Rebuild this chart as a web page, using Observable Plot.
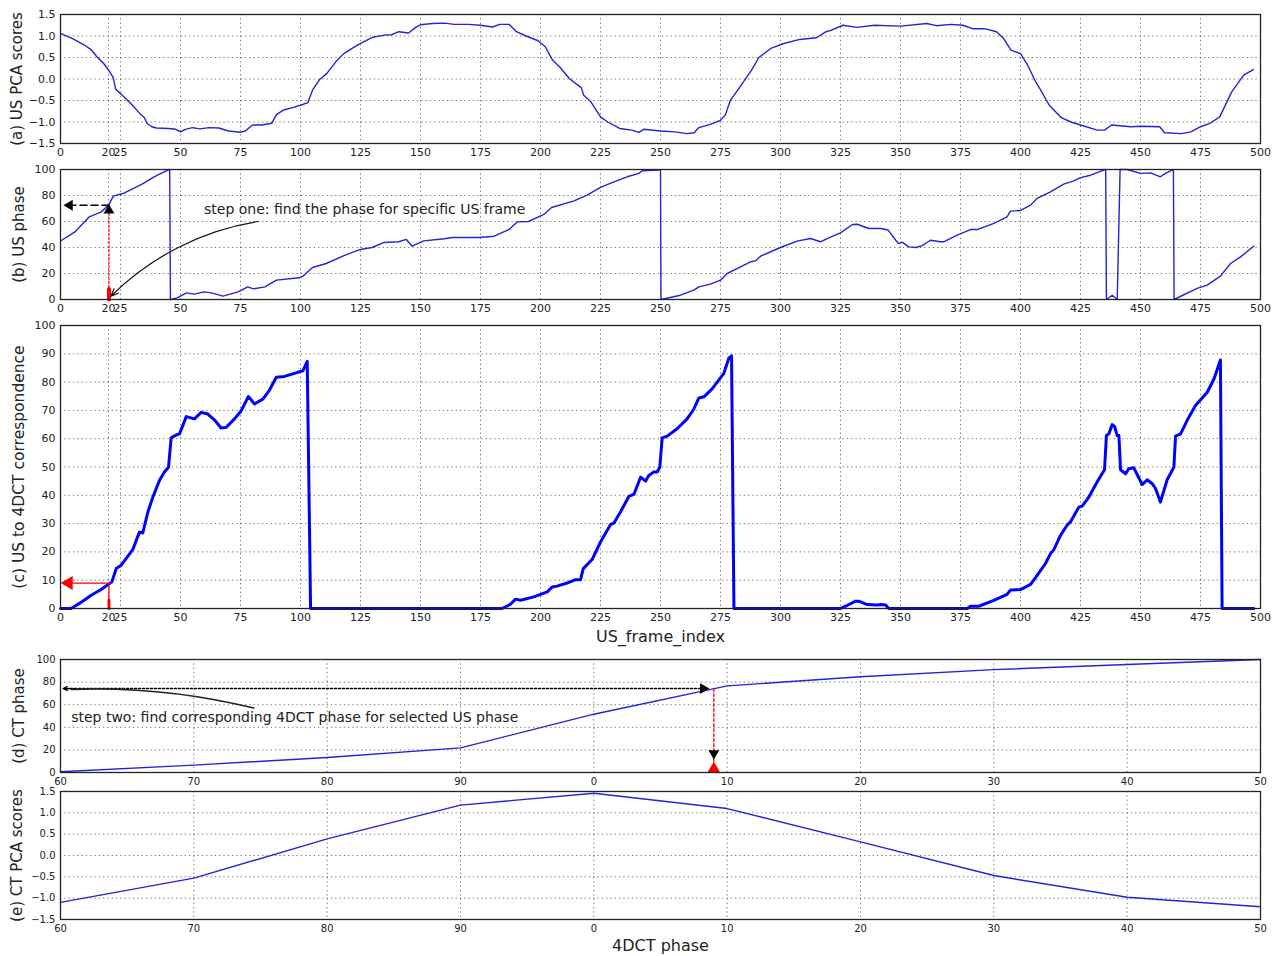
<!DOCTYPE html>
<html><head><meta charset="utf-8">
<script src="https://cdn.jsdelivr.net/npm/d3@7"></script>
<script src="https://cdn.jsdelivr.net/npm/@observablehq/plot@0.6"></script>
<style>
html,body{margin:0;padding:0;background:#fff;}
body{width:1276px;height:956px;overflow:hidden;font-family:"DejaVu Sans",sans-serif;}
#root{position:relative;width:1276px;height:956px;}
</style></head>
<body><div id="root"></div>
<script>
// ---------- data ----------
const usFrameTicks = [0,20,25,50,75,100,125,150,175,200,225,250,275,300,325,350,375,400,425,450,475,500];
const pcaTicks = [-1.5,-1,-0.5,0,0.5,1,1.5];
const phaseTicks = [0,20,40,60,80,100];
const corrTicks = [0,10,20,30,40,50,60,70,80,90,100];
const ctPhaseLabels = ["60","70","80","90","0","10","20","30","40","50"];

const usPcaFrames = [0,5,10,13,15,18,20,22,23,25,30,33,35,36,38,40,45,48,50,52,55,58,62,66,70,75,77,80,84,88,90,93,97,100,103,105,108,111,115,118,122,125,130,135,138,141,145,148,150,155,160,164,170,175,180,183,187,190,194,199,202,205,208,212,215,217,218,221,225,228,233,238,241,243,250,256,261,264,266,271,275,277,279,285,288,291,296,301,308,315,319,321,326,332,339,350,361,365,371,376,380,385,390,393,396,400,403,406,408,412,417,421,425,432,435,438,446,450,458,460,467,471,475,479,483,488,493,497];
const usPcaScores = [1.06,0.94,0.79,0.67,0.53,0.36,0.21,0.03,-0.24,-0.34,-0.61,-0.80,-0.90,-1.03,-1.11,-1.14,-1.15,-1.17,-1.23,-1.17,-1.13,-1.16,-1.13,-1.14,-1.21,-1.24,-1.21,-1.07,-1.07,-1.03,-0.83,-0.72,-0.66,-0.61,-0.55,-0.26,-0.01,0.13,0.42,0.59,0.73,0.83,0.97,1.02,1.03,1.10,1.07,1.20,1.26,1.29,1.30,1.27,1.27,1.25,1.21,1.27,1.27,1.10,1.00,0.89,0.75,0.44,0.28,0.01,-0.12,-0.20,-0.38,-0.53,-0.88,-1.00,-1.15,-1.19,-1.24,-1.17,-1.21,-1.23,-1.27,-1.25,-1.13,-1.05,-0.96,-0.84,-0.51,-0.03,0.21,0.50,0.71,0.82,0.92,0.96,1.10,1.13,1.25,1.20,1.25,1.23,1.29,1.24,1.27,1.25,1.17,1.17,1.10,0.94,0.67,0.59,0.32,-0.03,-0.22,-0.61,-0.90,-1.00,-1.07,-1.19,-1.19,-1.07,-1.11,-1.10,-1.11,-1.25,-1.27,-1.23,-1.11,-1.03,-0.88,-0.30,0.09,0.22];

const usPhaseFrames = [0,6,12,17,20,22,26,34,39,44,45.5,45.8,48.6,52.5,55.7,59.7,62.9,67.7,74,78,80.4,85.2,90,99.5,101,105,110.7,118.6,125,129.8,134.6,140.9,144.1,146.5,151.3,160,163.2,174.4,180.7,187,190.3,195,201.4,204.6,214,219.4,225,230.6,236.1,241,242.4,249.3,250,250.2,258.3,263.9,266,270.8,275,277.8,281.9,287.5,289.6,291.7,300,306.9,312.5,316.7,320.1,325,330,332,336.8,341.7,344.8,348,349.3,350.7,353.5,356.5,359,362.5,366.5,368,373.6,379.2,382,388.9,394.4,395.8,400,404.2,406.9,412.5,418,422.2,425,429.2,434.7,435.5,435.8,438.2,440.3,441.5,444.4,450,454.2,458.3,460.4,463.2,463.7,464,473.6,477.8,483.3,487.5,491.7,497.2];
const usPhaseValues = [45,52,63.6,67.4,72.6,79.5,81.5,88.7,94.4,99,100,0,1.3,5.1,4.1,5.9,5.1,2.6,5.9,9.7,8.2,9.7,14.9,16.7,17.9,24.6,27.7,34.1,38.5,40,43.8,44.4,46.2,41,45.1,46.7,47.7,47.7,48.7,54,59.7,60,65.4,70.8,75.9,80.3,86.2,90.5,94.4,97,99,99.5,99.8,0,3.3,7.2,9.7,11.8,14.9,20,23.8,29,29.7,33.3,40,44.9,46.9,44.4,47.4,51.3,57.7,57.9,54.6,54.6,53.5,45.6,43,44.1,40.5,40,41.5,45.6,44.4,44.4,49.5,53.8,53.8,58.5,63.6,68,68.5,72.6,77.7,82.8,88.7,91.3,93.8,95.6,99.5,100,0,3.3,0,100,100,97,97.4,94.4,97,99.5,100,0,8.5,11,18,27.7,32.8,41];

const corrFrames = [0,4.4,7.9,12.8,16.9,20.4,21.4,23.2,25.3,30.1,32.9,34.3,36.4,38.5,41.2,43.3,45,46.1,48.2,49.6,52.4,55.8,58.6,61.4,64.2,66.9,69,72.5,75.3,78.3,80.8,84.3,87.1,89.9,93.3,97.5,101,102.8,104.2,184,187.5,189.6,191.7,197.2,202.8,204.9,206.9,211.1,214.6,216.7,217.8,221.5,225,229.2,230.6,233.3,236.8,238.9,241.7,243.8,245.1,247.2,248.6,249.7,250.7,252.8,256.9,261.1,263.9,266,268.1,271.5,276.4,278.5,279.6,280.6,325,327.1,331.3,332.6,336.1,340.3,341.7,343.8,345.1,377.8,379.2,382.6,388.9,394.4,395.8,400,404.2,407,410.4,412.5,413.9,416.7,419.4,420.8,424.3,425.7,428.5,431.9,435,435.8,436.8,438.2,439.2,440.3,441,441.7,443.8,445.1,447.2,450.7,452.8,454.9,456.3,458.3,461.1,463.9,464.6,466.7,469.4,472.9,477.8,480.6,483.3,484,497.2];
const corrValues = [0,0,1.8,4.7,6.7,8.8,9.4,14.1,15.3,20.8,27,26.7,34.1,39.4,45.2,48.2,49.9,60.3,61.3,61.7,67.8,67,69.3,68.7,66.6,63.8,64,67,69.9,74.9,72.3,74,77.2,81.7,82,83.1,84,87.3,0,0,1.5,3.3,2.9,4.1,5.9,7.6,7.9,9,10.2,10.2,14.1,17.3,23.5,29.7,30.2,34.1,39.6,40.3,46.4,45,47,48.2,48.2,49.9,60.3,60.9,63.5,67,70.5,74.4,74.8,77.6,83.1,88.5,89.3,0,0,0.8,2.6,2.6,1.4,1.2,1.4,1.2,0,0,0.8,0.8,2.9,5,6.5,6.7,8.5,11.8,15.9,19.4,20.8,25.9,29.4,30.6,35.8,36.2,39.4,44.7,49,61.1,61.7,65,64.3,61.1,61.1,49,47.6,49.4,49.7,43.8,45.5,44.1,42.3,37.6,45.5,49.9,60.9,61.7,66.4,71.7,76.4,81.1,87.8,0,0];

const ctPhase = [0.6,6.5,13.3,21.8,51.6,76.7,84.7,91.0,95.6,100];
const ctPcaScores = [-1.10,-0.53,0.39,1.18,1.46,1.10,0.32,-0.47,-0.98,-1.20];

// selected example
const selFrame = 20.2, selUsPhase = 72.5, selCorr = 9, selCtIndex = 4.9, selCtPhase = 74.3;

// ---------- helpers ----------
const font = "DejaVu Sans, sans-serif";
const root = document.getElementById("root");
const pairs = (xs, ys) => xs.map((x, i) => ({x, y: ys[i]}));
const thin = "#2323d8";

function panel(cfg) {
  const fig = Plot.plot({
    width: 1276, height: cfg.height,
    marginLeft: 60, marginRight: 16, marginTop: cfg.mt, marginBottom: cfg.mb,
    x: {domain: cfg.xdom},
    y: {domain: cfg.ydom},
    style: {fontFamily: font, background: "transparent", color: "#222", overflow: "visible"},
    marks: [
      Plot.gridX(cfg.xticks, {stroke: "#000", strokeOpacity: 0.55, strokeDasharray: "1.3,3"}),
      Plot.gridY(cfg.yticks, {stroke: "#000", strokeOpacity: 0.55, strokeDasharray: "1.3,3"}),
      ...cfg.marks,
      Plot.frame({stroke: "#222", strokeWidth: 1.3}),
      Plot.axisX(cfg.xticks, {tickFormat: cfg.xfmt, tickSize: 0, tickPadding: 5, fontSize: cfg.tf, label: null}),
      Plot.axisY(cfg.yticks, {tickFormat: cfg.yfmt, tickSize: 0, tickPadding: 5, fontSize: cfg.tf, label: null}),
      Plot.text([cfg.ylabel], {text: d => d, frameAnchor: "left", textAnchor: "middle", lineAnchor: "middle", dx: cfg.ldx, rotate: -90, fontSize: cfg.lf || 15, fill: "#222"}),
      cfg.xlabel ? Plot.text([cfg.xlabel], {text: d => d, frameAnchor: "bottom", textAnchor: "middle", lineAnchor: "middle", dy: cfg.xldy, fontSize: 16, fill: "#222"}) : null
    ]
  });
  fig.style.position = "absolute";
  fig.style.left = "0px";
  fig.style.top = cfg.top + "px";
  root.appendChild(fig);
}

const ctFmt = i => ctPhaseLabels[i];
const ctIdx = d3.range(ctPhaseLabels.length);

// (a)
panel({
  top: 0, height: 160, mt: 14, mb: 17,
  xdom: [0, 500], xticks: usFrameTicks, xfmt: d => String(d),
  ydom: [-1.5, 1.5], yticks: pcaTicks, yfmt: d3.format(".1f"),
  tf: 11, ldx: -43, ylabel: "(a) US PCA scores",
  marks: [Plot.line(pairs(usPcaFrames, usPcaScores), {x: "x", y: "y", stroke: thin, strokeWidth: 1.4})]
});

// (b)
panel({
  top: 155, height: 160, mt: 14, mb: 16,
  xdom: [0, 500], xticks: usFrameTicks, xfmt: d => String(d),
  ydom: [0, 100], yticks: phaseTicks, yfmt: d => String(d),
  tf: 11, ldx: -41, ylabel: "(b) US phase",
  marks: [
    Plot.line(pairs(usPhaseFrames, usPhaseValues), {x: "x", y: "y", stroke: thin, strokeWidth: 1.4}),
    Plot.line([{x: selFrame, y: 0}, {x: selFrame, y: selUsPhase - 3}], {x: "x", y: "y", stroke: "red", strokeWidth: 1.2, strokeDasharray: "2,2"}),
    Plot.line([{x: selFrame, y: 0}, {x: selFrame, y: 8}], {x: "x", y: "y", stroke: "red", strokeWidth: 4}),
    Plot.dot([{x: selFrame, y: selUsPhase - 4}], {x: "x", y: "y", symbol: "triangle", r: 4, rotate: 0, fill: "#000", stroke: "none"}),
    Plot.line([{x: selFrame, y: selUsPhase}, {x: 4, y: selUsPhase}], {x: "x", y: "y", stroke: "#000", strokeWidth: 1.6, strokeDasharray: "7,4"}),
    Plot.dot([{x: 3.8, y: selUsPhase}], {x: "x", y: "y", symbol: "triangle", r: 4, rotate: -90, fill: "#000", stroke: "none"}),
    Plot.arrow([{x1: 82.5, y1: 60, x2: 21, y2: 2.5}], {x1: "x1", y1: "y1", x2: "x2", y2: "y2", bend: -18, headLength: 10, headAngle: 45, stroke: "#111", strokeWidth: 1.2}),
    Plot.text(["step one: find the phase for specific US frame"], {text: d => d, x: () => 59.8, y: () => 69.5, textAnchor: "start", fontSize: 14, fill: "#222"})
  ]
});

// (c)
panel({
  top: 311, height: 345, mt: 14, mb: 48,
  xdom: [0, 500], xticks: usFrameTicks, xfmt: d => String(d),
  ydom: [0, 100], yticks: corrTicks, yfmt: d => String(d),
  tf: 11, ldx: -41, lf: 15.5, ylabel: "(c) US to 4DCT correspondence",
  xlabel: "US_frame_index", xldy: 28,
  marks: [
    Plot.line(pairs(corrFrames, corrValues), {x: "x", y: "y", stroke: "#0000ff", strokeWidth: 3}),
    Plot.line([{x: selFrame, y: 0}, {x: selFrame, y: selCorr}, {x: 4, y: selCorr}], {x: "x", y: "y", stroke: "red", strokeWidth: 1.3}),
    Plot.line([{x: selFrame, y: 0}, {x: selFrame, y: 3}], {x: "x", y: "y", stroke: "red", strokeWidth: 3}),
    Plot.dot([{x: 3.4, y: selCorr}], {x: "x", y: "y", symbol: "triangle", r: 5.2, rotate: -90, fill: "red", stroke: "none"})
  ]
});

// (d)
panel({
  top: 645, height: 143, mt: 14, mb: 16,
  xdom: [0, 9], xticks: ctIdx, xfmt: ctFmt,
  ydom: [0, 100], yticks: phaseTicks, yfmt: d => String(d),
  tf: 10, ldx: -41, ylabel: "(d) CT phase",
  marks: [
    Plot.line(pairs(ctIdx, ctPhase), {x: "x", y: "y", stroke: thin, strokeWidth: 1.4}),
    Plot.line([{x: selCtIndex, y: selCtPhase}, {x: selCtIndex, y: 0}], {x: "x", y: "y", stroke: "red", strokeWidth: 1.3, strokeDasharray: "3,2"}),
    Plot.dot([{x: selCtIndex, y: 17}], {x: "x", y: "y", symbol: "triangle", r: 4, rotate: 180, fill: "#000", stroke: "none"}),
    Plot.dot([{x: selCtIndex, y: 3.5}], {x: "x", y: "y", symbol: "triangle", r: 4.5, rotate: 0, fill: "red", stroke: "none"}),
    Plot.line([{x: 4.8, y: selCtPhase}, {x: 0.03, y: selCtPhase}], {x: "x", y: "y", stroke: "#000", strokeWidth: 1.6, strokeDasharray: "2,2"}),
    Plot.dot([{x: 4.82, y: selCtPhase}], {x: "x", y: "y", symbol: "triangle", r: 4, rotate: 90, fill: "#000", stroke: "none"}),
    Plot.arrow([{x1: 0.12, y1: selCtPhase, x2: 0.02, y2: selCtPhase}], {x1: "x1", y1: "y1", x2: "x2", y2: "y2", headLength: 9, headAngle: 50, stroke: "#000", strokeWidth: 1.3}),
    Plot.arrow([{x1: 1.45, y1: 57, x2: 0.08, y2: 73.5}], {x1: "x1", y1: "y1", x2: "x2", y2: "y2", bend: -8, headLength: 0, stroke: "#222", strokeWidth: 1.5}),
    Plot.text(["step two: find corresponding 4DCT phase for selected US phase"], {text: d => d, x: () => 0.08, y: () => 49, textAnchor: "start", fontSize: 14, fill: "#222"})
  ]
});

// (e)
panel({
  top: 777, height: 179, mt: 14, mb: 37,
  xdom: [0, 9], xticks: ctIdx, xfmt: ctFmt,
  ydom: [-1.5, 1.5], yticks: pcaTicks, yfmt: d3.format(".1f"),
  tf: 10, ldx: -43, ylabel: "(e) CT PCA scores",
  xlabel: "4DCT phase", xldy: 26,
  marks: [Plot.line(pairs(ctIdx, ctPcaScores), {x: "x", y: "y", stroke: thin, strokeWidth: 1.4})]
});
</script>
</body></html>
